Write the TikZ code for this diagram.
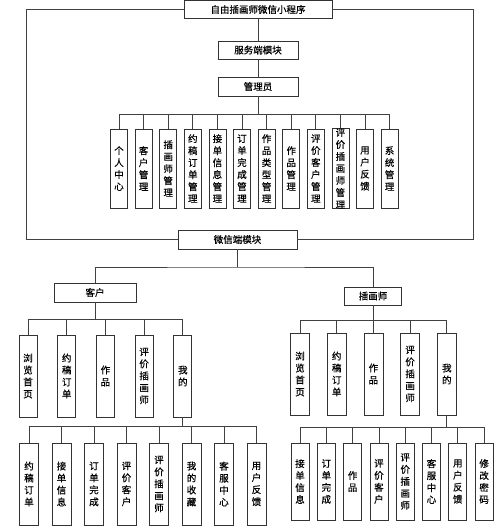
\documentclass[tikz,border=0pt]{standalone}
\usepackage{fontspec}
\setmainfont{Noto Sans CJK SC}[FakeBold=0.5]
\begin{document}
\begin{tikzpicture}[x=1pt,y=-1pt,
  line/.style={draw=black!75, line width=0.8pt},
  hbox/.style={draw=black!80, line width=0.8pt, fill=white, inner sep=0pt, font=\fontsize{9.5}{11}\selectfont},
  vbox/.style={draw=black!80, line width=0.8pt, fill=white, inner sep=0pt, align=center, font=\fontsize{9.5}{12}\selectfont}]
\useasboundingbox (0,0) rectangle (500,532);
\fill[white] (0,0) rectangle (500,532);
% top levels
\node[hbox, minimum width=148, minimum height=18] (root) at (258,9.5) {自由插画师微信小程序};
\node[hbox, minimum width=80, minimum height=18] (srv) at (258,50) {服务端模块};
\node[hbox, minimum width=80, minimum height=19] (adm) at (258,86.5) {管理员};
\node[hbox, minimum width=119, minimum height=19] (wx) at (237.5,239.5) {微信端模块};
\coordinate (fTL) at (26,9.5);
\coordinate (fTR) at (473,9.5);
\coordinate (fBL) at (26,239.5);
\coordinate (fBR) at (473,239.5);
\draw[line] (root.west) -- (fTL) -- (fBL) -- (wx.west);
\draw[line] (root.east) -- (fTR) -- (fBR) -- (wx.east);
\draw[line] (root) -- (srv);
\draw[line] (srv) -- (adm);
% admin children
\coordinate (abus) at (258,114);
\draw[line] (adm.south) -- (adm.south |- abus);
\foreach \t [count=\i from 0] in {{个\\人\\中\\心},{客\\户\\管\\理},{插\\画\\师\\管\\理},{约\\稿\\订\\单\\管\\理},{接\\单\\信\\息\\管\\理},{订\\单\\完\\成\\管\\理},{作\\品\\类\\型\\管\\理},{作\\品\\管\\理},{评\\价\\客\\户\\管\\理},{\fontsize{9.5}{11.2}\selectfont 评\\价\\插\\画\\师\\管\\理},{用\\户\\反\\馈},{系\\统\\管\\理}}{
  \node[vbox, minimum width=17, minimum height=79] (a\i) at ({119+24.6*\i},168.5) {\t};
  \draw[line] (a\i.north) -- (a\i.north |- abus);
}
\draw[line] (a0.north |- abus) -- (a11.north |- abus);
% wechat level
\node[hbox, minimum width=82, minimum height=19] (kh) at (95,292.5) {客户};
\node[hbox, minimum width=57, minimum height=18] (chs) at (373,296) {插画师};
\coordinate (wbus) at (237.5,267);
\draw[line] (wx.south) -- (wx.south |- wbus);
\draw[line] (kh.north) |- (wbus) -| (chs.north);
% client level 2
\coordinate (kbus) at (95,319);
\draw[line] (kh.south) -- (kbus);
\foreach \t [count=\i from 0] in {{浏\\览\\首\\页},{约\\稿\\订\\单},{作\\品},{评\\价\\插\\画\\师},{我\\的}}{
  \node[vbox, minimum width=18, minimum height=82] (k\i) at ({28+38.7*\i},376) {\t};
  \draw[line] (k\i.north) -- (k\i.north |- kbus);
}
\draw[line] (k0.north |- kbus) -- (k4.north |- kbus);
% client level 3
\coordinate (kwbus) at (183,426);
\draw[line] (k4.south) -- (k4.south |- kwbus);
\foreach \t [count=\i from 0] in {{约\\稿\\订\\单},{接\\单\\信\\息},{订\\单\\完\\成},{评\\价\\客\\户},{评\\价\\插\\画\\师},{我\\的\\收\\藏},{客\\服\\中\\心},{用\\户\\反\\馈}}{
  \node[vbox, minimum width=19, minimum height=82] (kw\i) at ({29+32.5*\i},484) {\t};
  \draw[line] (kw\i.north) -- (kw\i.north |- kwbus);
}
\draw[line] (kw0.north |- kwbus) -- (kw7.north |- kwbus);
% illustrator level 2
\coordinate (cbus) at (373,320);
\draw[line] (chs.south) -- (cbus);
\foreach \t [count=\i from 0] in {{浏\\览\\首\\页},{约\\稿\\订\\单},{作\\品},{评\\价\\插\\画\\师},{我\\的}}{
  \node[vbox, minimum width=19, minimum height=82] (c\i) at ({300+36.7*\i},374) {\t};
  \draw[line] (c\i.north) -- (c\i.north |- cbus);
}
\draw[line] (c0.north |- cbus) -- (c4.north |- cbus);
% illustrator level 3
\coordinate (cwbus) at (447,427);
\draw[line] (c4.south) -- (c4.south |- cwbus);
\foreach \t [count=\i from 0] in {{接\\单\\信\\息},{订\\单\\完\\成},{作\\品},{评\\价\\客\\户},{评\\价\\插\\画\\师},{客\\服\\中\\心},{用\\户\\反\\馈},{修\\改\\密\\码}}{
  \node[vbox, minimum width=18, minimum height=77] (cw\i) at ({300+26.3*\i},481.5) {\t};
  \draw[line] (cw\i.north) -- (cw\i.north |- cwbus);
}
\draw[line] (cw0.north |- cwbus) -- (cw7.north |- cwbus);
\end{tikzpicture}
\end{document}
